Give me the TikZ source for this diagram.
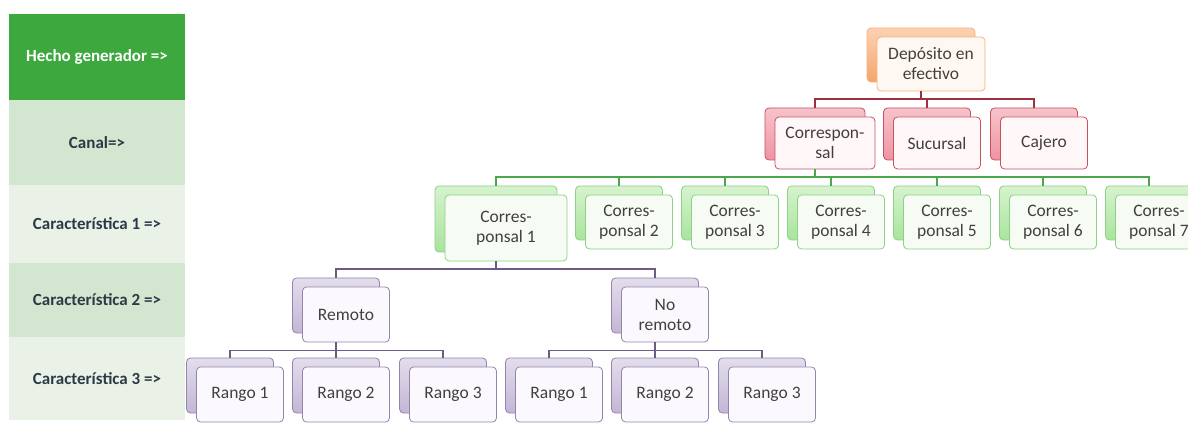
\documentclass[tikz,border=0pt]{standalone}
\usepackage{fontspec}
\setmainfont{Carlito}
\usepackage{xcolor}
\usetikzlibrary{calc}

\definecolor{hechogreen}{HTML}{3DA83D}
\definecolor{bandmid}{HTML}{D3E6CF}
\definecolor{bandlight}{HTML}{EAF2E8}
\definecolor{bandtext}{HTML}{2B3A46}
\definecolor{nodetext}{HTML}{404040}
\definecolor{orgline}{HTML}{F5B183}
\definecolor{orgtop}{HTML}{FCD2B2}
\definecolor{orgbot}{HTML}{F6A56C}
\definecolor{orgfront}{HTML}{FFF8F2}
\definecolor{redline}{HTML}{C9505E}
\definecolor{redtop}{HTML}{F7C3CB}
\definecolor{redbot}{HTML}{EE94A2}
\definecolor{redfront}{HTML}{FFF7F8}
\definecolor{grnline}{HTML}{8DD088}
\definecolor{grntop}{HTML}{D6F3CE}
\definecolor{grnbot}{HTML}{A9E49C}
\definecolor{grnfront}{HTML}{F6FCF4}
\definecolor{purline}{HTML}{9485AC}
\definecolor{purtop}{HTML}{E3DDEC}
\definecolor{purbot}{HTML}{C3B6D6}
\definecolor{purfront}{HTML}{FBF9FD}
\definecolor{redwire}{HTML}{A0303F}
\definecolor{grnwire}{HTML}{4CA64C}
\definecolor{purwire}{HTML}{6E5A84}

\newcommand\stackbox[6]{% name, back centre, width, height, colour, text
  \node[backbox=#5, minimum width=#3pt, minimum height=#4pt] (#1) at (#2) {};
  \node[frontbox=#5, minimum width=#3pt, minimum height=#4pt] (#1-f) at ([shift={(10,9)}]#1.center) {#6};
}

\begin{document}
\begin{tikzpicture}[x=1pt, y=-1pt,
    backbox/.style={draw=#1line, top color=#1top, bottom color=#1bot, rounded corners=4pt, line width=0.8pt, inner sep=0pt},
    frontbox/.style={draw=#1line, fill=#1front, rounded corners=4pt, line width=0.8pt, inner sep=0pt, text=nodetext, align=center, font=\fontsize{17.5}{20}\selectfont},
    band/.style={minimum width=176pt, inner sep=0pt, font=\bfseries\fontsize{17}{20}\selectfont, text=bandtext},
    wire/.style={line width=1.8pt, draw=#1}]

  \useasboundingbox (0,0) rectangle (1188,430);
  \clip (0,0) rectangle (1188,430);

  % left column
  \node[band, fill=hechogreen, text=white, minimum height=86pt] (hecho) at (97,57) {Hecho generador =>};
  \node[band, fill=bandmid, minimum height=85pt] (canal) at (97,142.5) {Canal=>};
  \node[band, fill=bandlight, minimum height=78pt] (car1) at (97,224) {Característica 1 =>};
  \node[band, fill=bandmid, minimum height=74pt] (car2) at (97,300) {Característica 2 =>};
  \node[band, fill=bandlight, minimum height=83pt] (car3) at (97,378.5) {Característica 3 =>};

  % hecho generador and canales
  \stackbox{dep}{921,55}{108}{54}{org}{Depósito en\\efectivo}
  \stackbox{cor}{815,134}{100}{52}{red}{Correspon-\\sal}
  \stackbox{suc}{927,134}{87}{52}{red}{Sucursal}
  \stackbox{caj}{1034,134}{87}{52}{red}{Cajero}

  % corresponsales
  \stackbox{cp1}{496,219}{122}{66}{grn}{Corres-\\ponsal 1}
  \foreach \i/\x in {2/619,3/725,4/831,5/937,6/1043,7/1149}
    {\stackbox{cp\i}{\x,213}{87}{54}{grn}{Corres-\\ponsal \i}}

  % remoto / no remoto and rangos
  \stackbox{rem}{336,305.5}{87}{55}{pur}{Remoto}
  \stackbox{norem}{655,305.5}{87}{55}{pur}{No\\remoto}
  \stackbox{ra1}{230,385.5}{87}{55}{pur}{Rango 1}
  \stackbox{ra2}{336,385.5}{87}{55}{pur}{Rango 2}
  \stackbox{ra3}{443,385.5}{87}{55}{pur}{Rango 3}
  \stackbox{rb1}{549,385.5}{87}{55}{pur}{Rango 1}
  \stackbox{rb2}{655,385.5}{87}{55}{pur}{Rango 2}
  \stackbox{rb3}{762,385.5}{87}{55}{pur}{Rango 3}

  % connectors
  \foreach \c in {cor,suc,caj}
    \draw[wire=redwire] (dep |- dep-f.south) -- ++(0,8) -| (\c.north);
  \foreach \c in {cp1,cp2,cp3,cp4,cp5,cp6,cp7}
    \draw[wire=grnwire] (cor |- cor-f.south) -- ++(0,8) -| (\c.north);
  \foreach \c in {rem,norem}
    \draw[wire=purwire] (cp1 |- cp1-f.south) -- ++(0,8) -| (\c.north);
  \foreach \c in {ra1,ra2,ra3}
    \draw[wire=purwire] (rem |- rem-f.south) -- ++(0,8) -| (\c.north);
  \foreach \c in {rb1,rb2,rb3}
    \draw[wire=purwire] (norem |- norem-f.south) -- ++(0,8) -| (\c.north);
\end{tikzpicture}
\end{document}
